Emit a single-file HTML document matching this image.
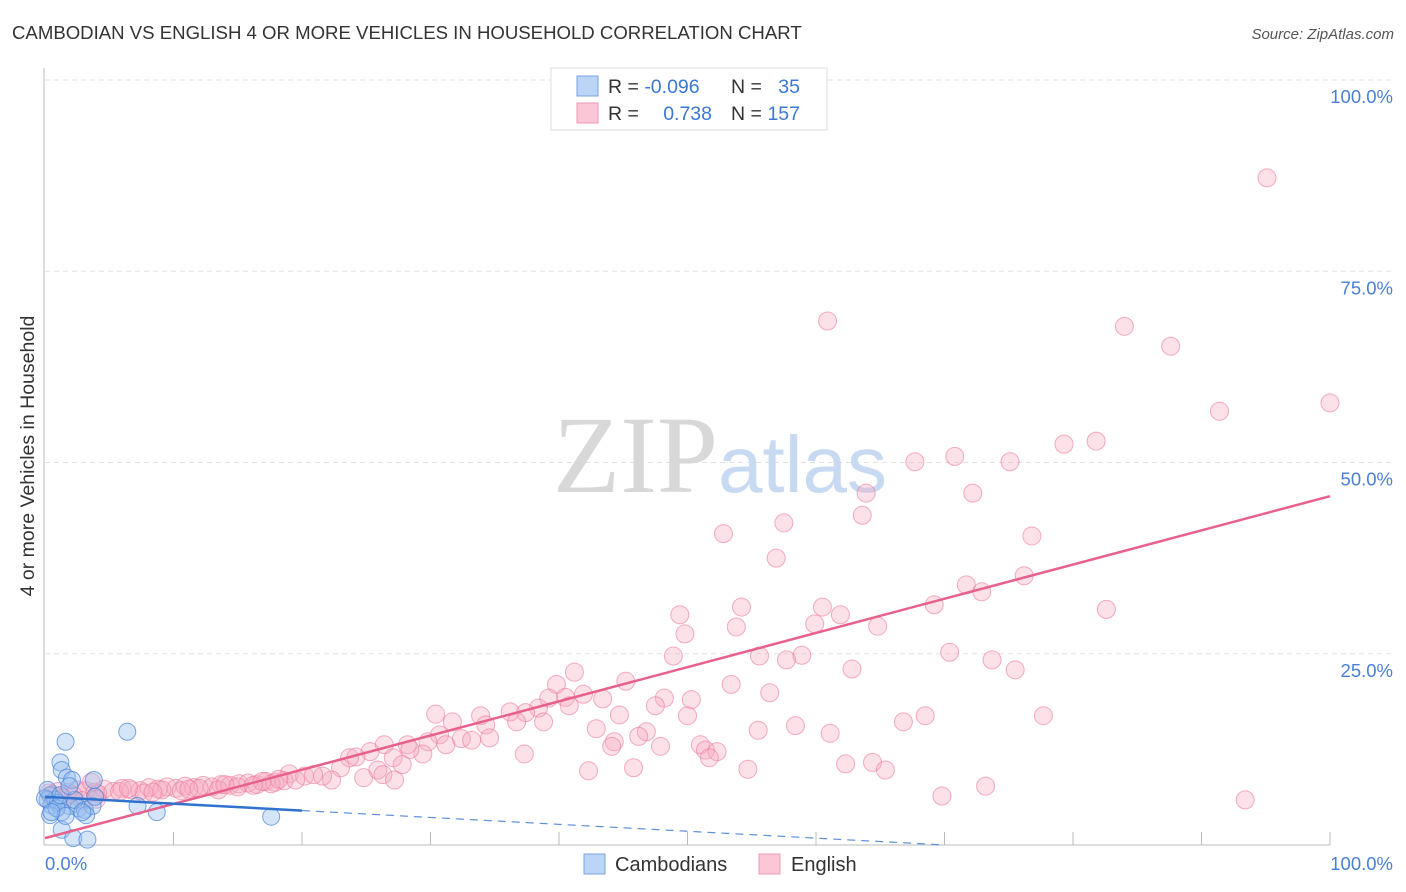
<!DOCTYPE html>
<html><head><meta charset="utf-8"><style>
body{margin:0;background:#fff;font-family:"Liberation Sans",sans-serif;}
#wrap{position:relative;width:1406px;height:892px;overflow:hidden;}
</style></head><body>
<div id="wrap">
<svg id="chart" width="1406" height="892" xmlns="http://www.w3.org/2000/svg">
<text x="12" y="39" font-size="18.6" fill="#333">CAMBODIAN VS ENGLISH 4 OR MORE VEHICLES IN HOUSEHOLD CORRELATION CHART</text>
<text x="1394" y="39" font-size="15" fill="#555" text-anchor="end" font-style="italic">Source: ZipAtlas.com</text>
<g id="grid"></g>
<text x="553" y="492" font-size="110" fill="#d8d8d8" font-family="Liberation Serif,serif">ZIP</text>
<text x="718" y="492" font-size="80" fill="#c8daf2">atlas</text>
<line x1="44" y1="68" x2="44" y2="845" stroke="#bbb"/>
<line x1="44" y1="845" x2="1330" y2="845" stroke="#bbb"/>
<g id="ticks"></g>
<g id="pink"></g>
<g id="blue"></g>
<g id="lines"></g>
<text x="34" y="456" font-size="19.5" fill="#333" text-anchor="middle" transform="rotate(-90 34 456)">4 or more Vehicles in Household</text>
<text x="45" y="870" font-size="18.5" fill="#4a7fd6">0.0%</text>
<text x="1393" y="870" font-size="18.5" fill="#4a7fd6" text-anchor="end">100.0%</text>
<g>
<rect x="551" y="68" width="276" height="62" fill="#fff" stroke="#ddd"/>
<rect x="577" y="76" width="21" height="20" fill="#bcd4f5" stroke="#7aa3e0"/>
<rect x="577" y="103" width="21" height="20" fill="#fbc6d5" stroke="#ee9ab2"/>
<text x="608" y="93" font-size="19.5" fill="#333">R = <tspan fill="#3a78d4">-0.096</tspan></text>
<text x="731" y="93" font-size="19.5" fill="#333">N = </text><text x="800" y="93" font-size="19.5" fill="#3a78d4" text-anchor="end">35</text>
<text x="608" y="120" font-size="19.5" fill="#333">R = </text><text x="712" y="120" font-size="19.5" fill="#3a78d4" text-anchor="end">0.738</text>
<text x="731" y="120" font-size="19.5" fill="#333">N = </text><text x="800" y="120" font-size="19.5" fill="#3a78d4" text-anchor="end">157</text>
</g>
<g>
<rect x="584" y="854" width="21" height="20" fill="#bcd4f5" stroke="#7aa3e0"/>
<text x="615" y="871" font-size="20" fill="#333">Cambodians</text>
<rect x="759" y="854" width="21" height="20" fill="#fbc6d5" stroke="#ee9ab2"/>
<text x="791" y="871" font-size="20" fill="#333">English</text>
</g>
</svg>
</div>
<script>
const yTicks=[25,50,75,100];
const yTickLabels=["25.0%","50.0%","75.0%","100.0%"];
const xTicks=[10,20,30,40,50,60,70,80,90,100];
const pinkX=[95.1,60.9,84.0,87.6,91.4,100,79.3,81.8,67.7,70.8,75.1,63.9,72.2,63.6,57.5,52.8,76.8,56.9,71.7,72.9,76.2,69.2,82.6,54.2,60.5,49.4,61.9,59.9,49.8,53.8,64.8,70.4,55.6,58.9,57.7,48.9,73.7,62.8,75.5,41.2,45.2,53.4,39.8,41.9,40.5,43.4,48.2,50.3,56.4,39.2,40.8,47.5,38.4,30.4,33.9,36.2,37.4,44.7,50.0,68.5,77.7,66.8,31.7,38.8,34.3,36.7,58.4,42.9,55.5,30.7,46.8,61.1,34.6,32.4,29.8,46.2,44.3,33.2,44.1,47.9,28.2,26.4,31.2,51.0,51.4,52.3,25.3,24.2,23.7,27.1,37.3,51.7,29.4,28.4,23.0,27.8,25.9,62.3,64.4,65.4,45.8,42.3,54.7,26.3,27.2,24.8,22.3,19.0,20.2,21.6,20.9,69.8,73.2,93.4,
0.3,1.0,1.8,2.5,3.2,3.9,4.6,5.3,6.0,6.7,7.4,8.1,8.8,9.5,10.2,10.9,11.6,12.3,13.0,13.7,14.4,15.1,15.8,16.5,17.2,17.9,18.6,19.5,2.2,4.1,5.8,7.7,9.1,10.6,12.0,13.5,15.0,16.2,17.6,18.2,3.6,6.5,8.4,11.2,14.0,16.9,1.4,2.9,4.0,0.6];
const pinkY=[87.2,68.5,67.8,65.2,56.7,57.8,52.4,52.8,50.1,50.8,50.1,46.0,46.0,43.1,42.1,40.7,40.4,37.5,34.0,33.1,35.2,31.4,30.8,31.1,31.1,30.1,30.1,28.9,27.6,28.5,28.6,25.2,24.7,24.8,24.2,24.7,24.2,23.0,22.9,22.6,21.4,21.0,21.0,19.7,19.3,19.1,19.2,19.0,19.9,19.2,18.2,18.2,17.9,17.1,16.9,17.4,17.3,17.0,16.9,16.9,16.9,16.1,16.1,16.1,15.7,16.1,15.6,15.2,15.0,14.4,14.8,14.6,14.0,13.9,13.5,14.2,13.5,13.7,12.9,12.9,13.1,13.1,13.1,13.1,12.4,12.2,12.2,11.5,11.4,11.4,11.9,11.4,11.9,12.5,10.1,10.5,9.8,10.6,10.8,9.8,10.1,9.7,9.9,9.2,8.5,8.8,8.5,9.3,9.0,9.0,9.2,6.4,7.7,5.9,
6.8,7.0,6.9,7.2,7.1,6.9,7.3,7.0,7.4,7.2,7.1,7.5,7.3,7.6,7.4,7.7,7.5,7.8,7.6,7.9,7.8,8.0,8.1,7.9,8.3,8.2,8.4,8.5,6.5,6.7,7.0,6.8,7.2,7.1,7.4,7.2,7.6,7.8,8.0,8.6,8.2,7.4,6.9,7.3,7.9,8.3,6.2,5.8,6.0,6.6];
const blueX=[1.6,6.4,1.2,1.3,1.7,2.1,3.8,0.4,0.2,0.5,0.8,1.0,1.9,2.6,3.1,3.7,2.3,1.3,0.4,3.2,2.9,7.2,8.7,17.6,1.3,2.2,3.3,0,0.2,0.9,1.6,3.9,1.2,1.9,0.5];
const blueY=[13.5,14.8,10.8,9.8,8.8,8.5,8.5,6.5,5.9,5.2,5.9,5.5,5.1,4.8,4.6,5.1,5.9,4.3,3.9,3.9,4.3,5.1,4.3,3.7,2.0,0.9,0.7,6.1,7.2,4.8,3.8,6.3,6.5,7.7,4.3];
const pinkTrend=[0.9,45.6];
const blueTrend=[6.3,-0.09];
const blueMaxX=20;
const NS="http://www.w3.org/2000/svg";
const X0=45,X1=1330,Y0=845,Y1=80;
function sx(v){return X0+(X1-X0)*v/100;}
function sy(v){return Y0-(Y0-Y1)*v/100;}
function mk(tag,attrs,parent){const e=document.createElementNS(NS,tag);for(const k in attrs)e.setAttribute(k,attrs[k]);document.getElementById(parent).appendChild(e);return e;}
yTicks.forEach((t,i)=>{
 const l=mk('line',{x1:45,x2:1395,y1:sy(t),y2:sy(t),stroke:'#e2e2e2','stroke-dasharray':'5,4'},'grid');
 
 
 const tx=mk('text',{x:1393,y:sy(t)+23,'font-size':18.5,fill:'#4a7fd6','text-anchor':'end'},'grid');
 tx.textContent=yTickLabels[i];
 
 
});
xTicks.forEach(t=>{
 const l=mk('line',{x1:sx(t),x2:sx(t),y1:845,y2:832,stroke:'#bbb'},'ticks');
 
 
});
pinkX.forEach((x,i)=>{
 const c=mk('circle',{cx:sx(x),cy:sy(pinkY[i]),r:9,fill:'rgba(246,168,192,0.35)',stroke:'rgba(236,120,155,0.6)','stroke-width':1},'pink');
 
 
});
blueX.forEach((x,i)=>{
 const c=mk('circle',{cx:sx(x),cy:sy(blueY[i]),r:8.5,fill:'rgba(150,190,240,0.4)',stroke:'rgba(70,130,215,0.7)','stroke-width':1},'blue');
 
 
});
const pl=mk('line',{x1:sx(0),y1:sy(pinkTrend[0]),x2:sx(100),y2:sy(pinkTrend[1]),stroke:'#e8618c','stroke-width':2.5},'lines');


const bEnd=-blueTrend[0]/blueTrend[1];
const bl=mk('line',{x1:sx(0),y1:sy(blueTrend[0]),x2:sx(blueMaxX),y2:sy(blueTrend[0]+blueTrend[1]*blueMaxX),stroke:'#2f72d0','stroke-width':2.5},'lines');


const bd=mk('line',{x1:sx(blueMaxX),y1:sy(blueTrend[0]+blueTrend[1]*blueMaxX),x2:sx(bEnd),y2:sy(0),stroke:'#5b8fd9','stroke-width':1.2,'stroke-dasharray':'8,6'},'lines');


</script>
</body></html>
